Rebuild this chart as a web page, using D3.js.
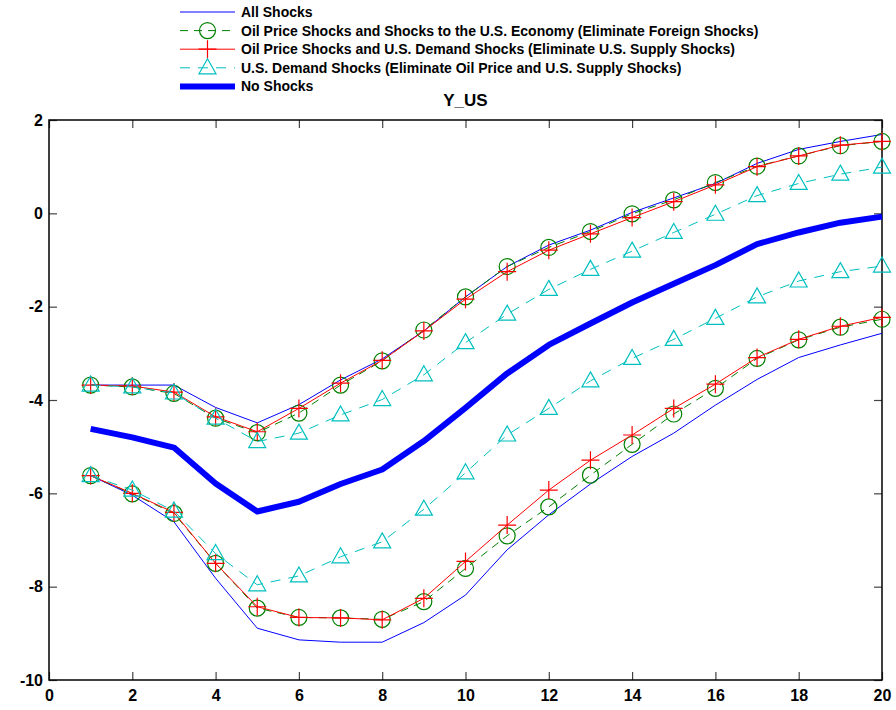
<!DOCTYPE html>
<html><head><meta charset="utf-8">
<script src="https://cdn.jsdelivr.net/npm/d3@7"></script>
<style>body{margin:0;background:#fff}svg{display:block}text{font-family:"Liberation Sans",Arial,sans-serif;font-weight:bold}</style>
</head><body><svg id="c" width="896" height="710"></svg>
<script>
const periods = [1,2,3,4,5,6,7,8,9,10,11,12,13,14,15,16,17,18,19,20];
const allUpper = [-3.68,-3.68,-3.68,-4.16,-4.49,-4.10,-3.57,-3.12,-2.52,-1.79,-1.14,-0.68,-0.36,0.02,0.33,0.64,1.07,1.37,1.54,1.69];
const allLower = [-5.62,-6.04,-6.61,-7.82,-8.89,-9.14,-9.19,-9.19,-8.77,-8.18,-7.21,-6.46,-5.80,-5.21,-4.71,-4.11,-3.56,-3.09,-2.82,-2.57];
const foreignElimUpper = [-3.68,-3.72,-3.86,-4.39,-4.70,-4.28,-3.68,-3.16,-2.50,-1.79,-1.14,-0.73,-0.39,-0.01,0.29,0.66,1.01,1.23,1.45,1.54];
const foreignElimLower = [-5.62,-6.01,-6.43,-7.50,-8.46,-8.66,-8.67,-8.70,-8.32,-7.61,-6.91,-6.29,-5.61,-4.95,-4.30,-3.75,-3.11,-2.71,-2.44,-2.27];
const supplyElimUpper = [-3.68,-3.70,-3.83,-4.36,-4.68,-4.18,-3.64,-3.15,-2.52,-1.84,-1.25,-0.79,-0.44,-0.09,0.25,0.61,1.00,1.23,1.46,1.54];
const supplyElimLower = [-5.62,-6.00,-6.41,-7.50,-8.43,-8.66,-8.67,-8.71,-8.25,-7.46,-6.68,-5.93,-5.29,-4.75,-4.18,-3.66,-3.09,-2.70,-2.42,-2.23];
const demandOnlyUpper = [-3.68,-3.72,-3.85,-4.39,-4.89,-4.71,-4.32,-3.99,-3.46,-2.77,-2.16,-1.63,-1.20,-0.81,-0.41,-0.02,0.38,0.64,0.84,0.99];
const demandOnlyLower = [-5.62,-5.93,-6.38,-7.29,-7.96,-7.77,-7.36,-7.04,-6.34,-5.56,-4.75,-4.18,-3.59,-3.11,-2.70,-2.25,-1.79,-1.45,-1.25,-1.13];
const noShocks = [-4.62,-4.80,-5.02,-5.79,-6.39,-6.18,-5.80,-5.49,-4.88,-4.17,-3.43,-2.82,-2.36,-1.91,-1.51,-1.11,-0.66,-0.41,-0.20,-0.07];
const xTicks = [0,2,4,6,8,10,12,14,16,18,20];
const yTicks = [-10,-8,-6,-4,-2,0,2];
const legendLabels = ["All Shocks",
 "Oil Price Shocks and Shocks to the U.S. Economy (Eliminate Foreign Shocks)",
 "Oil Price Shocks and U.S. Demand Shocks (Eliminate U.S. Supply Shocks)",
 "U.S. Demand Shocks (Eliminate Oil Price and U.S. Supply Shocks)",
 "No Shocks"];
const title = "Y_US";

const svg = d3.select("#c");
const L=49,R=882,T=120,B=680;
const x = d3.scaleLinear().domain([0,20]).range([L,R]);
const y = d3.scaleLinear().domain([-10,2]).range([B,T]);
const fmt = d => String(d);

const styles = [
 {color:"#0000ff", w:1, dash:null, marker:null},
 {color:"#008000", w:1, dash:"8,6", marker:"circle"},
 {color:"#ff0000", w:1, dash:null, marker:"plus"},
 {color:"#00bfbf", w:1, dash:"10,8", marker:"tri"},
 {color:"#0000ff", w:6, dash:null, marker:null}
];
const seriesGroups = [
 [allUpper, allLower],
 [foreignElimUpper, foreignElimLower],
 [supplyElimUpper, supplyElimLower],
 [demandOnlyUpper, demandOnlyLower],
 [noShocks]
];

// axes box & ticks
const ax = svg.append("g");
const tl = 8;
ax.append("g").attr("transform",`translate(0,${B})`)
  .call(d3.axisBottom(x).tickValues(xTicks).tickFormat(fmt).tickSizeInner(-tl).tickSizeOuter(0).tickPadding(10));
ax.append("g").attr("transform",`translate(0,${T})`)
  .call(d3.axisTop(x).tickValues(xTicks).tickSizeInner(-tl).tickSizeOuter(0).tickFormat(""));
ax.append("g").attr("transform",`translate(${L},0)`)
  .call(d3.axisLeft(y).tickValues(yTicks).tickFormat(fmt).tickSizeInner(-tl).tickSizeOuter(0).tickPadding(6));
ax.append("g").attr("transform",`translate(${R},0)`)
  .call(d3.axisRight(y).tickValues(yTicks).tickSizeInner(-tl).tickSizeOuter(0).tickFormat(""));
ax.selectAll(".domain").remove();
ax.selectAll(".tick line").attr("stroke","#444").attr("stroke-width",1.2);
ax.selectAll(".tick text").attr("font-size",16).attr("font-weight","bold").attr("fill","#000")
  .attr("font-family","'Liberation Sans',Arial,sans-serif");
svg.append("rect").attr("x",L).attr("y",T).attr("width",R-L).attr("height",B-T)
  .attr("fill","none").attr("stroke","#000").attr("stroke-width",1.5);

function drawMarker(g, kind, cx, cy, color){
  if(kind==="circle"){
    g.append("circle").attr("cx",cx).attr("cy",cy).attr("r",8).attr("fill","none").attr("stroke",color).attr("stroke-width",1.2);
  } else if(kind==="plus"){
    g.append("path").attr("d",`M${cx-9},${cy}H${cx+9}M${cx},${cy-9}V${cy+9}`).attr("stroke",color).attr("stroke-width",1.2).attr("fill","none");
  } else if(kind==="tri"){
    g.append("path").attr("d",`M${cx},${cy-9}L${cx+8.5},${cy+6}L${cx-8.5},${cy+6}Z`).attr("stroke",color).attr("stroke-width",1.2).attr("fill","none");
  }
}

const line = d3.line().x((d,i)=>x(periods[i])).y(d=>y(d));
const plot = svg.append("g");
seriesGroups.forEach((grp,k)=>{
  const s = styles[k];
  grp.forEach(arr=>{
    plot.append("path").datum(arr).attr("d",line).attr("fill","none")
      .attr("stroke",s.color).attr("stroke-width",s.w)
      .attr("stroke-dasharray",s.dash).attr("stroke-linejoin","round");
    if(s.marker){
      arr.forEach((v,i)=>drawMarker(plot,s.marker,x(periods[i]),y(v),s.color));
    }
  });
});

// title
svg.append("text").attr("x",(L+R)/2).attr("y",106).attr("text-anchor","middle")
  .attr("font-size",17).text(title);

// legend
const lg = svg.append("g");
legendLabels.forEach((lab,k)=>{
  const s = styles[k];
  const cy = 12 + k*18.6;
  lg.append("line").attr("x1",180).attr("x2",235).attr("y1",cy).attr("y2",cy)
    .attr("stroke",s.color).attr("stroke-width",s.w).attr("stroke-dasharray",s.dash);
  if(s.marker) drawMarker(lg,s.marker,207.5,cy,s.color);
  lg.append("text").attr("x",241).attr("y",cy).attr("dy","0.36em").attr("font-size",14).text(lab);
});
</script></body></html>
